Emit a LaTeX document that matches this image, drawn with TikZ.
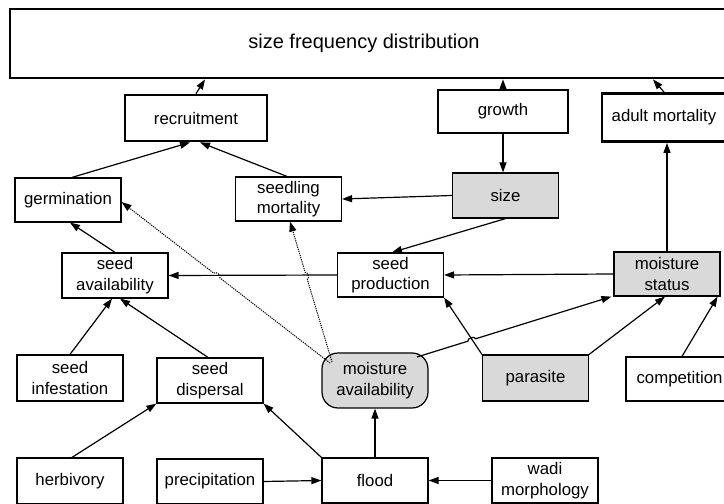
\documentclass[tikz,border=0pt]{standalone}
\usepackage{fontspec}
\setmainfont{Liberation Sans}
\usetikzlibrary{arrows.meta, calc}

\begin{document}
\begin{tikzpicture}[x=1pt, y=1pt,
  every node/.style={font=\fontsize{16.8}{20.5}\selectfont, align=center, inner sep=0pt},
  factor/.style={draw, line width=1.2pt, minimum width=106pt, minimum height=45pt},
  shaded/.style={factor, fill=gray!30},
  outcome/.style={draw, line width=2.8pt, minimum height=46pt},
  link/.style={-{Triangle[length=10pt, width=7pt]}, line width=1.2pt},
  weak/.style={link, densely dotted, line width=1pt}]
  \useasboundingbox (0,0) rectangle (724,504);

  \node[outcome, minimum width=730pt, minimum height=69pt, font=\fontsize{20}{24}\selectfont]
    (sfd) at (375,460.5) {\hspace*{-22pt}size frequency distribution};
  \node[outcome, minimum width=142pt] (rec) at (196,386) {recruitment};
  \node[outcome, minimum width=130pt, minimum height=43pt] (gro) at (503,392.5) {growth};
  \node[outcome, minimum width=124pt, minimum height=48pt] (amort) at (664,386.5) {adult mortality};

  \node[factor, minimum height=44pt] (germ) at (68,304) {germination};
  \node[factor, minimum height=44pt] (smort) at (288.5,305) {seedling\\mortality};
  \node[shaded] (size) at (505.5,308.5) {size};
  \node[factor] (savail) at (115,228.5) {seed\\availability};
  \node[factor, minimum height=44pt] (sprod) at (390.5,229) {seed\\production};
  \node[shaded, minimum height=44pt] (mstat) at (667,230) {moisture\\status};

  \node[factor, minimum height=46pt] (sinf) at (70,126) {seed\\infestation};
  \node[factor] (sdisp) at (210,123.5) {seed\\dispersal};
  \node[shaded, minimum height=55pt, rounded corners=16pt] (mavail) at (375,123.5) {moisture\\availability};
  \node[shaded, minimum height=46pt] (para) at (535.5,126) {parasite};
  \node[factor, minimum width=107pt, minimum height=44pt] (comp) at (679.5,125) {competition};

  \node[factor, minimum height=46pt] (herb) at (70,23) {herbivory};
  \node[factor] (precip) at (210,22.5) {precipitation};
  \node[factor] (flood) at (375,23.5) {flood};
  \node[factor] (wadi) at (545,23.5) {wadi\\morphology};

  \draw[link] (rec.north) -- ([xshift=-170pt]sfd.south);
  \draw[link] (gro.north) -- (gro.north |- sfd.south);
  \draw[link] (amort.north) -- ([xshift=278pt]sfd.south);

  \draw[link] ([xshift=4pt]germ.north) -- ([xshift=-6pt]rec.south);
  \draw[link] ([xshift=-1.5pt]smort.north) -- ([xshift=4pt]rec.south);
  \draw[link] (gro.south) -- (gro.south |- size.north);
  \draw[link] (size.west) -- (smort.east);
  \draw[link] (size.south) -- ([xshift=1.5pt]sprod.north);
  \draw[link] (mstat.west) -- (sprod.east);
  \draw[link] (mstat.north) -- (mstat.north |- amort.south);
  \draw[link] (sprod.west) -- (savail.east);
  \draw[link] (savail.north) -- ([xshift=2pt]germ.south);

  \draw[link] (sinf.north) -- ([xshift=-3pt]savail.south);
  \draw[link] ([xshift=-2pt]sdisp.north) -- ([xshift=5pt]savail.south);
  \draw[link] ([xshift=2pt]herb.north) -- (sdisp.south west);
  \draw[link] (flood.north west) -- (sdisp.south east);
  \draw[link] (precip.east) -- (flood.west);
  \draw[link] (wadi.west) -- (flood.east);
  \draw[link] (flood.north) -- (mavail.south);

  % moisture availability effects, with hops over crossing lines
  \coordinate (mavG) at ([shift={(-45pt,17.5pt)}]mavail.center);
  \coordinate (mavS) at ([shift={(-43pt,18.5pt)}]mavail.center);
  \coordinate (mavM) at ([shift={(42pt,23.5pt)}]mavail.center);
  \coordinate (germE) at ([yshift=-2pt]germ.east);
  \coordinate (smortS) at ([xshift=1.5pt]smort.south);
  \coordinate (mstatSW) at ([xshift=-2pt]mstat.south west);
  \draw[weak] (mavG) -- ($(mavG)!0.528!(germE)$) to[bend right=90]
    ($(mavG)!0.558!(germE)$) -- (germE);
  \draw[weak] (mavS) -- ($(mavS)!0.588!(smortS)$) to[bend right=90]
    ($(mavS)!0.638!(smortS)$) -- (smortS);
  \draw[link] (mavM) -- ($(mavM)!0.262!(mstatSW)$) to[bend left=90]
    ($(mavM)!0.302!(mstatSW)$) -- (mstatSW);
  \draw[link] (para.north west) -- (sprod.south east);
  \draw[link] (para.north east) -- ([xshift=-2pt]mstat.south);
  \draw[link] ([xshift=2.5pt]comp.north) -- ([xshift=-3pt]mstat.south east);
\end{tikzpicture}
\end{document}
